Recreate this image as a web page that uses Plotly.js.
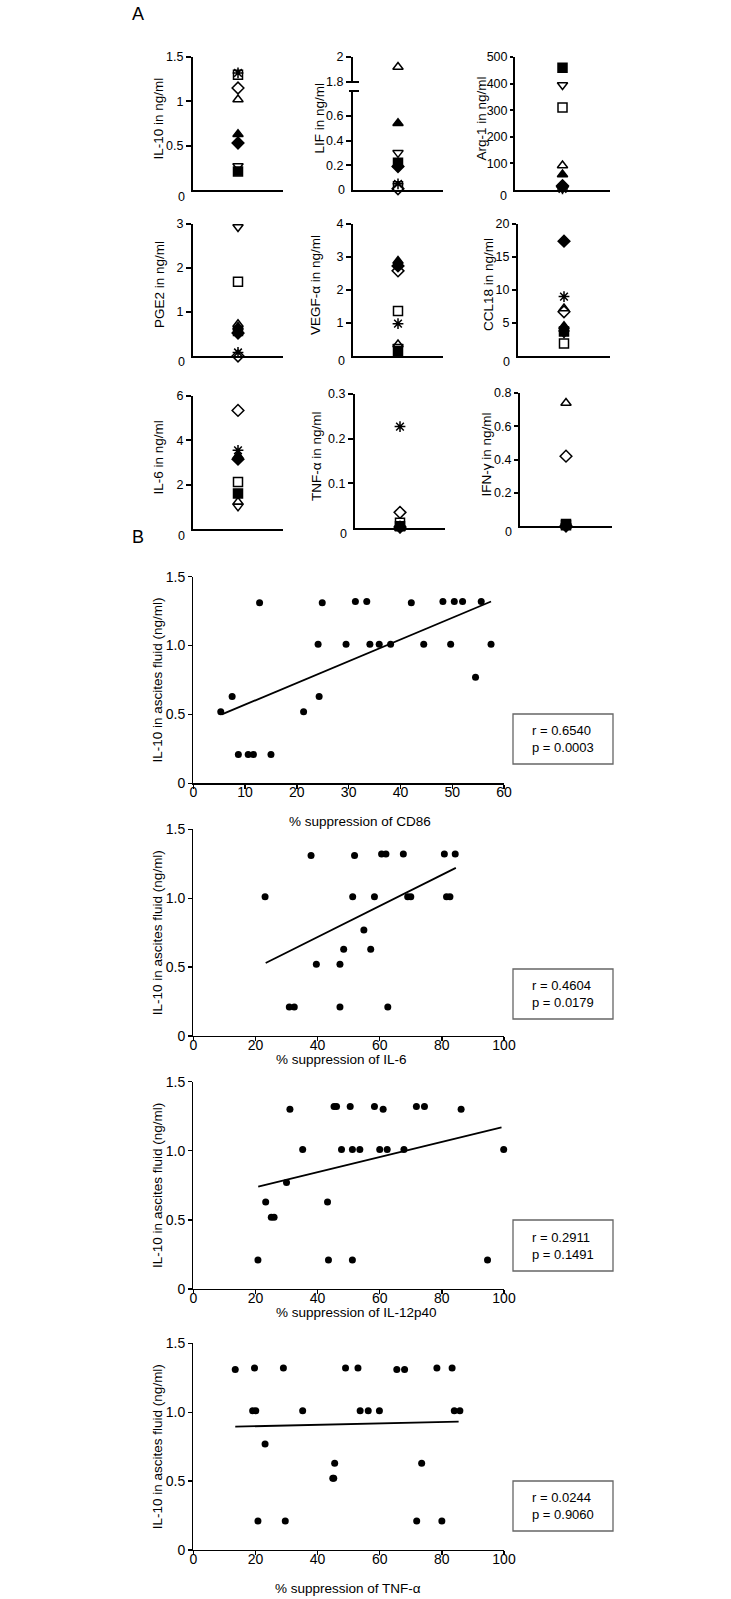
<!DOCTYPE html>
<html>
<head>
<meta charset="utf-8">
<script src="https://cdn.plot.ly/plotly-3.0.1.min.js"></script>
<style>html,body{margin:0;padding:0;background:#fff;}#chart{width:731px;height:1599px;}</style>
</head>
<body>
<div id="chart"></div>
<script>
// ---------- Panel A data (one value per patient, order matches symbols) ----------
const patientSymbols = ['square','square-open','triangle-up','triangle-up-open','diamond','diamond-open','triangle-down-open','asterisk-open'];
const il10  = [0.21, 1.30, 0.63, 1.02, 0.53, 1.15, 0.27, 1.32];
const lif   = [0.22, 0.03, 0.54, 1.92, 0.19, 0.01, 0.30, 0.05];
const arg1  = [460, 310, 58, 92, 16, 12, 395, 4];
const pge2  = [0.57, 1.69, 0.66, 0.72, 0.52, 0.0, 2.93, 0.08];
const vegfa = [0.15, 1.36, 2.88, 0.35, 2.73, 2.58, 0.28, 0.98];
const ccl18 = [3.7, 1.9, 4.5, 7.2, 17.4, 6.7, 3.5, 9.0];
const il6   = [1.60, 2.12, 3.30, 1.22, 3.15, 5.35, 1.02, 3.55];
const tnfa  = [0.004, 0.012, 0.0, 0.0, 0.002, 0.035, 0.0, 0.227];
const ifng  = [0.012, 0.004, 0.0, 0.74, 0.0, 0.42, 0.0, 0.002];

// ---------- Panel B data ----------
const cd86X   = [5.3,7.5,8.7,10.6,11.6,12.8,15.0,21.3,24.1,24.3,24.9,29.5,31.3,33.5,34.1,35.9,38.1,42.1,44.5,48.2,49.7,50.4,52.0,54.5,55.6,57.5];
const cd86Y   = [0.52,0.63,0.21,0.21,0.21,1.31,0.21,0.52,1.01,0.63,1.31,1.01,1.32,1.32,1.01,1.01,1.01,1.31,1.01,1.32,1.01,1.32,1.32,0.77,1.32,1.01];
const cd86FitX = [5.5, 57.5];
const cd86FitY = [0.50, 1.32];

const il6X   = [23.1,30.9,32.5,37.9,39.6,47.2,47.2,48.4,51.3,51.9,54.9,57.1,58.3,60.6,62.0,62.6,67.6,69.0,70.0,80.8,81.5,82.6,84.3];
const il6Y   = [1.01,0.21,0.21,1.31,0.52,0.52,0.21,0.63,1.01,1.31,0.77,0.63,1.01,1.32,1.32,0.21,1.32,1.01,1.01,1.32,1.01,1.01,1.32];
const il6FitX = [23.3, 84.5];
const il6FitY = [0.53, 1.22];

const il12X  = [20.8,23.3,25.1,26.0,30.0,31.1,35.2,43.2,43.5,45.3,46.1,47.7,50.5,51.2,51.2,53.6,58.3,60.0,61.1,62.4,67.8,71.8,74.4,86.2,94.7,99.9];
const il12Y  = [0.21,0.63,0.52,0.52,0.77,1.30,1.01,0.63,0.21,1.32,1.32,1.01,1.32,1.01,0.21,1.01,1.32,1.01,1.30,1.01,1.01,1.32,1.32,1.30,0.21,1.01];
const il12FitX = [20.9, 99.2];
const il12FitY = [0.74, 1.17];

const tnfX   = [13.5,19.1,19.7,20.1,20.8,23.1,29.0,29.6,35.2,44.9,45.2,45.5,49.0,53.0,53.7,56.3,59.9,65.5,68.0,71.9,73.5,78.4,80.0,83.3,84.0,85.8];
const tnfY   = [1.31,1.01,1.32,1.01,0.21,0.77,1.32,0.21,1.01,0.52,0.52,0.63,1.32,1.32,1.01,1.01,1.01,1.31,1.31,0.21,0.63,1.32,0.21,1.32,1.01,1.01];
const tnfFitX = [13.5, 85.4];
const tnfFitY = [0.895, 0.931];

const statTexts = ['r = 0.6540<br>p = 0.0003','r = 0.4604<br>p = 0.0179','r = 0.2911<br>p = 0.1491','r = 0.0244<br>p = 0.9060'];

// ---------- layout helpers ----------
const W = 731, H = 1599;
const FONT = 'Liberation Sans, Arial, Helvetica, sans-serif';
const xd = (a,b) => [a/W, b/W];
const yd = (top,bot) => [1-bot/H, 1-top/H];
const px = v => v/W;
const py = v => 1 - v/H;

const layout = {
  width: W, height: H, margin:{l:0,r:0,t:0,b:0},
  paper_bgcolor:'#ffffff', plot_bgcolor:'rgba(0,0,0,0)',
  showlegend:false, font:{family:FONT, color:'#000', size:13},
  annotations:[], shapes:[]
};
const traces = [];
let n = 0;
function addAxes(xdom, ydom, xopt, yopt){
  n++;
  const s = n===1 ? '' : String(n);
  layout['xaxis'+s] = Object.assign({domain:xdom, anchor:'y'+s, fixedrange:true}, xopt);
  layout['yaxis'+s] = Object.assign({domain:ydom, anchor:'x'+s, fixedrange:true}, yopt);
  return {x:'x'+s, y:'y'+s};
}

// ---------- Panel A ----------
const aPlots = [
  {name:'IL-10', title:'IL-10 in ng/ml', vals:il10, xs:[193,283], ys:[57,190], range:[0,1.5], tv:[0.5,1,1.5], tt:['0.5','1','1.5'], zs:7, tx:158, tl:5},
  {name:'LIF', title:'LIF in ng/ml', vals:lif, xs:[353,443], ys:[91,190], range:[0,0.8], tv:[0.2,0.4,0.6], tt:['0.2','0.4','0.6'], zs:0, tx:319, tl:5,
     upper:{ys:[57,82], range:[1.8,2.0], tv:[1.8,2.0], tt:['1.8','2']}},
  {name:'Arg-1', title:'Arg-1 in ng/ml', vals:arg1, xs:[515,610], ys:[57,190], range:[0,500], tv:[100,200,300,400,500], tt:['100','200','300','400','500'], zs:6, tx:481, tl:3},
  {name:'PGE2', title:'PGE2 in ng/ml', vals:pge2, xs:[193,283], ys:[224,356], range:[0,3], tv:[1,2,3], tt:['1','2','3'], zs:6, tx:159, tl:5},
  {name:'VEGF', title:'VEGF-α in ng/ml', vals:vegfa, xs:[353,443], ys:[224,356], range:[0,4], tv:[1,2,3,4], tt:['1','2','3','4'], zs:5, tx:315, tl:5},
  {name:'CCL18', title:'CCL18 in ng/ml', vals:ccl18, xs:[518,610], ys:[224,356], range:[0,20], tv:[5,10,15,20], tt:['5','10','15','20'], zs:6, tx:488, tl:4},
  {name:'IL-6', title:'IL-6 in ng/ml', vals:il6, xs:[193,283], ys:[396,529], range:[0,6], tv:[2,4,6], tt:['2','4','6'], zs:7, tx:158, tl:5},
  {name:'TNF', title:'TNF-α in ng/ml', vals:tnfa, xs:[355,445], ys:[394,528], range:[0,0.3], tv:[0.1,0.2,0.3], tt:['0.1','0.2','0.3'], zs:6, tx:316, tl:5},
  {name:'IFN', title:'IFN-γ in ng/ml', vals:ifng, xs:[520,612], ys:[393,526], range:[0,0.8], tv:[0.2,0.4,0.6,0.8], tt:['0.2','0.4','0.6','0.8'], zs:6, tx:486, tl:4}
];

function aY(range, tv, tt, tl){
  return {range:range, tickvals:tv, ticktext:tt, showline:true, linewidth:2, linecolor:'#000',
    ticks:'outside', ticklen:tl, tickwidth:2, tickcolor:'#000', showgrid:false, zeroline:false,
    tickfont:{size:12.5, family:FONT}};
}
function aX(showline){
  return {type:'category', range:[-0.5,0.5], showline:showline, linewidth:2, linecolor:'#000',
    showticklabels:false, ticks:'', showgrid:false, zeroline:false};
}
const markerA = {symbol:null, size:9, color:'#000', line:{color:'#000', width:1.5}};

aPlots.forEach(p => {
  const lowIdx = p.vals.map((v,i)=>i).filter(i => !p.upper || p.vals[i] <= p.range[1]);
  const ax = addAxes(xd(p.xs[0],p.xs[1]), yd(p.ys[0],p.ys[1]), aX(true), aY(p.range, p.tv, p.tt, p.tl));
  traces.push({type:'scatter', mode:'markers', xaxis:ax.x, yaxis:ax.y, cliponaxis:false, hoverinfo:'skip',
    x: lowIdx.map(()=>p.name), y: lowIdx.map(i=>p.vals[i]),
    marker: Object.assign({}, markerA, {symbol: lowIdx.map(i=>patientSymbols[i])})});
  // zero label
  layout.annotations.push({xref:'paper', yref:'paper', x:px(p.xs[0]-6), y:py(p.ys[1]+p.zs), xanchor:'right', yanchor:'middle',
    text:'0', showarrow:false, font:{size:12.5, family:FONT}});
  // y title
  let top = p.upper ? p.upper.ys[0] : p.ys[0];
  layout.annotations.push({xref:'paper', yref:'paper', x:px(p.tx), y:py((top+p.ys[1])/2 - 5), xanchor:'center', yanchor:'middle',
    textangle:-90, text:p.title, showarrow:false, font:{size:13.5, family:FONT}});
  if (p.upper){
    const hiIdx = p.vals.map((v,i)=>i).filter(i => p.vals[i] > p.range[1]);
    const ux = addAxes(xd(p.xs[0],p.xs[1]), yd(p.upper.ys[0],p.upper.ys[1]), Object.assign(aX(false),{visible:false}), aY(p.upper.range, p.upper.tv, p.upper.tt, p.tl));
    traces.push({type:'scatter', mode:'markers', xaxis:ux.x, yaxis:ux.y, cliponaxis:false, hoverinfo:'skip',
      x: hiIdx.map(()=>p.name), y: hiIdx.map(i=>p.vals[i]),
      marker: Object.assign({}, markerA, {symbol: hiIdx.map(i=>patientSymbols[i])})});
    // axis break marks
    [p.upper.ys[1], p.ys[0]].forEach(yy => {
      layout.shapes.push({type:'line', xref:'paper', yref:'paper', x0:px(p.xs[0]-4), x1:px(p.xs[0]+6), y0:py(yy), y1:py(yy),
        line:{color:'#000', width:2}});
    });
  }
});

// ---------- Panel B ----------
const bPlots = [
  {x:cd86X, y:cd86Y, fx:cd86FitX, fy:cd86FitY, xmax:60, dt:10, title:'% suppression of CD86', ys:[576.7,783.3], tpos:[360,822], box:[714,764]},
  {x:il6X, y:il6Y, fx:il6FitX, fy:il6FitY, xmax:100, dt:20, title:'% suppression of IL-6', ys:[829.3,1036], tpos:[341,1059], box:[969,1019]},
  {x:il12X, y:il12Y, fx:il12FitX, fy:il12FitY, xmax:100, dt:20, title:'% suppression of IL-12p40', ys:[1081.7,1289], tpos:[356,1312], box:[1220,1271]},
  {x:tnfX, y:tnfY, fx:tnfFitX, fy:tnfFitY, xmax:100, dt:20, title:'% suppression of TNF-α', ys:[1343.3,1550], tpos:[348,1588], box:[1481,1531]}
];
bPlots.forEach((p,k) => {
  const ax = addAxes(xd(193.3,504), yd(p.ys[0],p.ys[1]),
    {range:[0,p.xmax], dtick:p.dt, tick0:0, showline:true, linewidth:1.3, linecolor:'#000', ticks:'outside', ticklen:4, tickwidth:1.3,
     tickcolor:'#000', showgrid:false, zeroline:false, tickfont:{size:14, family:FONT}, ticklabelstandoff:-8},
    {range:[0,1.5], tickvals:[0,0.5,1.0,1.5], ticktext:['0','0.5','1.0','1.5'], showline:true, linewidth:1.3, linecolor:'#000',
     ticks:'outside', ticklen:4, tickwidth:1.3, tickcolor:'#000', showgrid:false, zeroline:false, tickfont:{size:14, family:FONT},
     title:{text:'IL-10 in ascites fluid (ng/ml)', font:{size:13.5, family:FONT}, standoff:0}});
  traces.push({type:'scatter', mode:'markers', xaxis:ax.x, yaxis:ax.y, cliponaxis:false, hoverinfo:'skip',
    x:p.x, y:p.y, marker:{symbol:'circle', size:7, color:'#000'}});
  traces.push({type:'scatter', mode:'lines', xaxis:ax.x, yaxis:ax.y, cliponaxis:false, hoverinfo:'skip',
    x:p.fx, y:p.fy, line:{color:'#000', width:1.8}});
  layout.annotations.push({xref:'paper', yref:'paper', x:px(p.tpos[0]), y:py(p.tpos[1]), xanchor:'center', yanchor:'middle',
    text:p.title, showarrow:false, font:{size:13.5, family:FONT}});
  layout.shapes.push({type:'rect', xref:'paper', yref:'paper', x0:px(513), x1:px(613), y0:py(p.box[1]), y1:py(p.box[0]),
    line:{color:'#666', width:1.3}, fillcolor:'rgba(0,0,0,0)'});
  layout.annotations.push({xref:'paper', yref:'paper', x:px(530), y:py((p.box[0]+p.box[1])/2), xanchor:'left', yanchor:'middle',
    align:'left', text:statTexts[k], showarrow:false, font:{size:13, family:FONT}});
});

// panel letters
layout.annotations.push({xref:'paper', yref:'paper', x:px(138), y:py(14), xanchor:'center', yanchor:'middle', text:'A', showarrow:false, font:{size:18, family:FONT}});
layout.annotations.push({xref:'paper', yref:'paper', x:px(138), y:py(537), xanchor:'center', yanchor:'middle', text:'B', showarrow:false, font:{size:18, family:FONT}});

Plotly.newPlot('chart', traces, layout, {staticPlot:true, displayModeBar:false});
</script>
</body>
</html>
